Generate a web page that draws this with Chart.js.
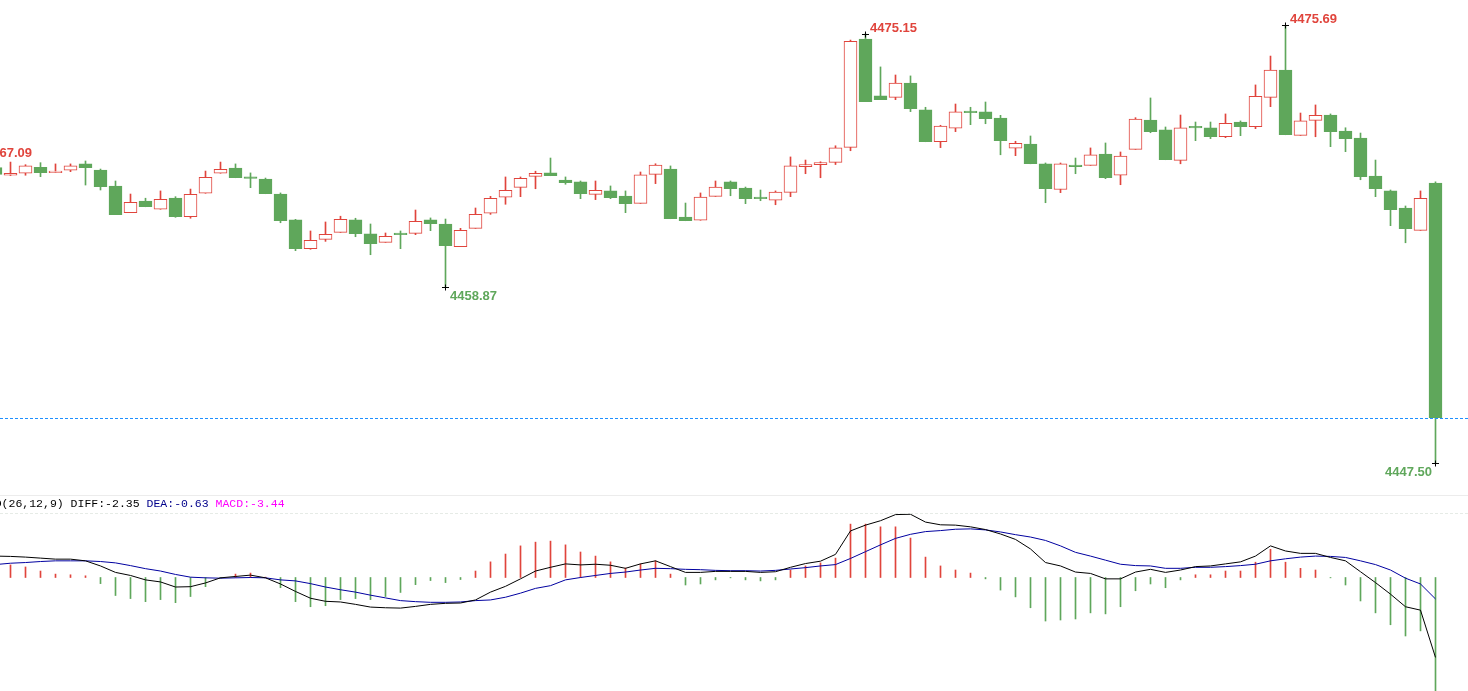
<!DOCTYPE html>
<html>
<head>
<meta charset="utf-8">
<script src="https://cdn.jsdelivr.net/npm/chart.js@4.4.1/dist/chart.umd.min.js"></script>
<style>
html, body { margin: 0; padding: 0; background: #fff; overflow: hidden; }
#wrap { position: relative; width: 1468px; height: 691px; }
#kline { position: absolute; left: 0; top: 0; }
#sep { position: absolute; left: 0; top: 495px; width: 1468px; height: 1px; background: #ececec; }
#macd { position: absolute; left: 0; top: 496px; }
</style>
</head>
<body>
<div id="wrap">
  <canvas id="kline" width="1468" height="495"></canvas>
  <div id="sep"></div>
  <canvas id="macd" width="1468" height="195"></canvas>
</div>
<script>
// candle index of the first entry (the first two sit at / beyond the left edge)
const firstIndex = -2;

const opens = [
  4466.20, 4466.53, 4466.04, 4466.17, 4466.55, 4466.21, 4466.36, 4466.77, 4466.38, 4465.35,
  4463.63, 4464.38, 4463.85, 4464.57, 4463.37, 4464.88, 4466.17, 4466.51, 4465.86, 4465.80,
  4464.83, 4463.16, 4461.31, 4461.91, 4462.36, 4463.16, 4462.26, 4461.72, 4462.32, 4462.30,
  4463.16, 4462.90, 4461.44, 4462.62, 4463.59, 4464.62, 4465.26, 4465.97, 4466.19, 4465.73,
  4465.61, 4464.81, 4465.03, 4464.70, 4464.23, 4466.10, 4466.44, 4463.35, 4463.14, 4464.68,
  4465.61, 4465.22, 4464.64, 4464.43, 4464.94, 4466.60, 4466.72, 4466.87, 4467.84, 4474.82,
  4471.15, 4471.06, 4471.98, 4470.25, 4468.20, 4469.07, 4470.18, 4470.12, 4469.73, 4467.78,
  4468.05, 4466.77, 4465.12, 4466.70, 4466.68, 4467.41, 4466.04, 4467.71, 4469.60, 4468.96,
  4467.00, 4469.17, 4469.09, 4468.52, 4469.47, 4469.17, 4471.06, 4472.82, 4468.61, 4469.58,
  4469.92, 4468.89, 4468.44, 4465.99, 4465.03, 4463.93, 4462.49, 4465.54
];
const highs = [
  4467.09, 4466.80, 4466.89, 4466.72, 4466.85, 4466.77, 4466.77, 4466.96, 4466.44, 4465.67,
  4464.83, 4464.56, 4465.03, 4464.66, 4465.15, 4466.31, 4466.89, 4466.77, 4466.19, 4465.86,
  4464.90, 4463.20, 4462.45, 4463.03, 4463.40, 4463.27, 4462.90, 4462.32, 4462.45, 4463.80,
  4463.29, 4463.22, 4462.62, 4463.93, 4464.68, 4465.93, 4465.93, 4466.30, 4467.15, 4465.93,
  4465.67, 4465.67, 4465.35, 4465.03, 4466.25, 4466.78, 4466.64, 4464.25, 4464.90, 4465.67,
  4465.67, 4465.28, 4465.09, 4465.03, 4467.22, 4467.02, 4466.91, 4467.94, 4474.75, 4475.15,
  4473.02, 4472.50, 4472.44, 4470.42, 4469.26, 4470.63, 4470.42, 4470.76, 4469.90, 4468.23,
  4468.57, 4466.83, 4466.83, 4467.15, 4467.80, 4468.12, 4467.54, 4469.75, 4471.02, 4469.15,
  4469.92, 4469.47, 4469.47, 4469.99, 4469.54, 4471.86, 4473.72, 4475.69, 4470.05, 4470.57,
  4469.99, 4469.10, 4468.76, 4467.02, 4465.09, 4464.06, 4465.03, 4465.61
];
const lows = [
  4465.90, 4465.90, 4466.02, 4466.04, 4465.95, 4466.21, 4466.27, 4465.41, 4465.09, 4463.50,
  4463.63, 4464.01, 4463.85, 4463.33, 4463.27, 4464.88, 4466.17, 4465.88, 4465.24, 4464.85,
  4462.98, 4461.18, 4461.27, 4461.78, 4462.36, 4462.08, 4460.92, 4461.72, 4461.31, 4462.21,
  4462.47, 4458.87, 4461.44, 4462.62, 4463.52, 4464.17, 4464.66, 4465.17, 4466.01, 4465.46,
  4464.53, 4464.47, 4464.53, 4463.63, 4464.23, 4465.50, 4463.24, 4463.11, 4463.14, 4464.68,
  4464.72, 4464.21, 4464.40, 4464.14, 4464.66, 4466.14, 4465.88, 4466.73, 4467.62, 4470.78,
  4470.91, 4470.91, 4470.14, 4468.20, 4467.82, 4468.85, 4469.30, 4469.36, 4467.36, 4467.30,
  4466.78, 4464.27, 4464.92, 4466.14, 4466.68, 4465.82, 4465.43, 4467.71, 4468.78, 4467.04,
  4466.78, 4468.27, 4468.40, 4468.46, 4468.59, 4469.04, 4470.46, 4468.65, 4468.61, 4468.52,
  4467.88, 4467.56, 4465.75, 4464.66, 4462.79, 4461.69, 4462.49, 4447.50
];
const closes = [
  4466.60, 4466.10, 4466.17, 4466.64, 4466.21, 4466.31, 4466.64, 4466.53, 4465.30, 4463.50,
  4464.30, 4464.01, 4464.49, 4463.37, 4464.81, 4465.91, 4466.42, 4465.88, 4465.84, 4464.85,
  4463.11, 4461.31, 4461.85, 4462.24, 4463.20, 4462.27, 4461.63, 4462.11, 4462.21, 4463.07,
  4462.92, 4461.50, 4462.49, 4463.52, 4464.56, 4465.07, 4465.84, 4466.17, 4466.01, 4465.56,
  4464.85, 4465.07, 4464.59, 4464.21, 4466.06, 4466.70, 4463.24, 4463.11, 4464.64, 4465.28,
  4465.17, 4464.53, 4464.53, 4464.96, 4466.64, 4466.72, 4466.85, 4467.80, 4474.67, 4470.78,
  4470.91, 4471.98, 4470.33, 4468.20, 4469.21, 4470.12, 4470.07, 4469.68, 4468.27, 4468.10,
  4466.78, 4465.17, 4466.77, 4466.60, 4467.35, 4465.88, 4467.28, 4469.66, 4468.85, 4467.04,
  4469.09, 4469.09, 4468.52, 4469.39, 4469.17, 4471.13, 4472.82, 4468.65, 4469.54, 4469.90,
  4468.85, 4468.40, 4465.95, 4465.17, 4463.82, 4462.60, 4464.56, 4450.42
];

// MACD(26,12,9)
const diffValues = [
  0.64, 0.63, 0.62, 0.60, 0.57, 0.54, 0.54, 0.49, 0.34, 0.15,
  0.06, -0.07, -0.13, -0.28, -0.27, -0.16, -0.01, 0.03, 0.07, -0.01,
  -0.19, -0.41, -0.61, -0.70, -0.72, -0.79, -0.87, -0.89, -0.90, -0.85,
  -0.79, -0.76, -0.75, -0.66, -0.43, -0.26, -0.04, 0.19, 0.30, 0.40,
  0.37, 0.39, 0.36, 0.27, 0.40, 0.49, 0.32, 0.15, 0.15, 0.18,
  0.18, 0.18, 0.15, 0.17, 0.30, 0.41, 0.48, 0.68, 1.37, 1.54,
  1.67, 1.85, 1.86, 1.63, 1.55, 1.54, 1.49, 1.41, 1.28, 1.12,
  0.84, 0.44, 0.34, 0.16, 0.12, -0.04, -0.04, 0.16, 0.24, 0.15,
  0.22, 0.32, 0.34, 0.40, 0.46, 0.63, 0.93, 0.78, 0.71, 0.71,
  0.59, 0.49, 0.17, -0.15, -0.49, -0.86, -0.96, -2.35
];
const deaValues = [
  0.36, 0.38, 0.42, 0.44, 0.47, 0.49, 0.49, 0.49, 0.47, 0.43,
  0.35, 0.26, 0.19, 0.09, 0.01, -0.01, -0.02, -0.01, 0.00, -0.01,
  -0.07, -0.10, -0.18, -0.28, -0.36, -0.43, -0.52, -0.60, -0.68, -0.71,
  -0.73, -0.73, -0.72, -0.68, -0.66, -0.58, -0.46, -0.32, -0.24, -0.07,
  0.00, 0.06, 0.12, 0.16, 0.22, 0.27, 0.26, 0.24, 0.23, 0.21,
  0.20, 0.20, 0.19, 0.21, 0.25, 0.29, 0.34, 0.38, 0.56, 0.76,
  0.96, 1.15, 1.27, 1.35, 1.38, 1.42, 1.43, 1.40, 1.34, 1.26,
  1.19, 1.09, 0.93, 0.74, 0.63, 0.51, 0.39, 0.35, 0.34, 0.27,
  0.27, 0.30, 0.30, 0.32, 0.35, 0.39, 0.49, 0.55, 0.60, 0.63,
  0.62, 0.59, 0.49, 0.38, 0.22, -0.02, -0.19, -0.63
];
const macdValues = [
  0.56, 0.50, 0.37, 0.31, 0.19, 0.10, 0.08, 0.05, -0.18, -0.53,
  -0.62, -0.71, -0.65, -0.74, -0.56, -0.27, -0.02, 0.10, 0.13, 0.01,
  -0.30, -0.71, -0.86, -0.83, -0.65, -0.62, -0.65, -0.56, -0.44, -0.21,
  -0.09, -0.15, -0.06, 0.19, 0.46, 0.69, 0.93, 1.04, 1.07, 0.96,
  0.75, 0.63, 0.46, 0.28, 0.40, 0.49, 0.10, -0.22, -0.19, -0.07,
  -0.01, -0.07, -0.10, -0.07, 0.22, 0.34, 0.43, 0.57, 1.57, 1.57,
  1.49, 1.49, 1.16, 0.60, 0.34, 0.22, 0.13, -0.04, -0.37, -0.57,
  -0.89, -1.28, -1.25, -1.22, -1.04, -1.07, -0.86, -0.39, -0.19, -0.30,
  -0.07, 0.08, 0.08, 0.19, 0.19, 0.45, 0.83, 0.45, 0.27, 0.22,
  -0.01, -0.22, -0.69, -1.04, -1.39, -1.72, -1.57, -3.44
];

// candles whose extreme price is labelled
const markedCandles = [-2, 29, 57, 85, 95];
const markedSide = ['high', 'low', 'high', 'high', 'low'];

const RED = '#e0443c';
const GREEN = '#5fa75b';

const idx = opens.map((_, k) => k + firstIndex);
const isUp = opens.map((o, k) => closes[k] >= o);

const xScale = { type: 'linear', min: -0.7, max: 97.1667, display: false, offset: false, bounds: 'data' };

const candleOverlay = {
  id: 'candleOverlay',
  afterDatasetsDraw(chart) {
    const { ctx, scales: { x, y }, width } = chart;
    ctx.save();
    // last price line
    const py = Math.round(y.getPixelForValue(closes[closes.length - 1])) + 0.5;
    ctx.strokeStyle = '#1e90ff';
    ctx.lineWidth = 1;
    ctx.setLineDash([3, 2]);
    ctx.beginPath();
    ctx.moveTo(0, py);
    ctx.lineTo(width, py);
    ctx.stroke();
    ctx.setLineDash([]);

    ctx.font = 'bold 13px "Liberation Sans", Arial, sans-serif';
    markedCandles.forEach((ci, n) => {
      const k = ci - firstIndex;
      const high = markedSide[n] === 'high';
      const price = high ? highs[k] : lows[k];
      const cx = x.getPixelForValue(ci);
      const cy = Math.round(y.getPixelForValue(price)) + 0.5;
      ctx.strokeStyle = '#000';
      ctx.beginPath();
      ctx.moveTo(cx - 3.5, cy); ctx.lineTo(cx + 3.5, cy);
      ctx.moveTo(cx, cy - 3); ctx.lineTo(cx, cy + 3);
      ctx.stroke();
      ctx.fillStyle = high ? RED : GREEN;
      ctx.textBaseline = 'alphabetic';
      const label = price.toFixed(2);
      if (cx > width - 70) {
        ctx.textAlign = 'right';
        ctx.fillText(label, cx - 3.5, high ? cy - 2.5 : cy + 12);
      } else {
        ctx.textAlign = 'left';
        ctx.fillText(label, cx + 4.5, high ? cy - 2.5 : cy + 12);
      }
    });
    ctx.restore();
  }
};

new Chart(document.getElementById('kline'), {
  type: 'bar',
  data: {
    datasets: [
      {
        label: 'wick',
        data: idx.map((i, k) => ({ x: i, y: [lows[k], highs[k]] })),
        backgroundColor: c => isUp[c.dataIndex] ? RED : GREEN,
        barThickness: 1,
        grouped: false,
        order: 3
      },
      {
        label: 'body',
        data: idx.map((i, k) => ({ x: i, y: [opens[k], closes[k]] })),
        backgroundColor: c => isUp[c.dataIndex] ? '#ffffff' : GREEN,
        borderColor: c => isUp[c.dataIndex] ? RED : GREEN,
        borderWidth: 1,
        borderSkipped: false,
        barThickness: 13,
        minBarLength: 1.5,
        grouped: false,
        order: 2
      }
    ]
  },
  options: {
    responsive: false,
    animation: false,
    devicePixelRatio: 1,
    layout: { padding: 0 },
    plugins: { legend: { display: false }, tooltip: { enabled: false } },
    scales: {
      x: xScale,
      y: { min: 4445.438, max: 4477.332, display: false, beginAtZero: false, bounds: 'data' }
    }
  },
  plugins: [candleOverlay]
});

const macdOverlay = {
  id: 'macdOverlay',
  afterDatasetsDraw(chart) {
    const { ctx, width } = chart;
    const last = diffValues.length - 1;
    ctx.save();
    ctx.strokeStyle = '#e6ebe6';
    ctx.lineWidth = 1;
    ctx.setLineDash([3, 2]);
    ctx.beginPath();
    ctx.moveTo(0, 17.5);
    ctx.lineTo(width, 17.5);
    ctx.stroke();
    ctx.setLineDash([]);

    ctx.font = '11.5px "Liberation Mono", "DejaVu Sans Mono", monospace';
    ctx.textBaseline = 'alphabetic';
    ctx.textAlign = 'left';
    const parts = [
      ['MACD(26,12,9) ', '#000000'],
      ['DIFF:' + diffValues[last].toFixed(2) + ' ', '#000000'],
      ['DEA:' + deaValues[last].toFixed(2) + ' ', '#00008b'],
      ['MACD:' + macdValues[last].toFixed(2), '#ff00ff']
    ];
    let tx = -26;
    parts.forEach(([t, col]) => {
      ctx.fillStyle = col;
      ctx.fillText(t, tx, 11);
      tx += ctx.measureText(t).width;
    });
    ctx.restore();
  }
};

new Chart(document.getElementById('macd'), {
  type: 'bar',
  data: {
    datasets: [
      {
        label: 'DIFF',
        type: 'line',
        data: idx.map((i, k) => ({ x: i, y: diffValues[k] })),
        borderColor: '#000000',
        borderWidth: 1,
        pointRadius: 0,
        tension: 0,
        order: 0
      },
      {
        label: 'DEA',
        type: 'line',
        data: idx.map((i, k) => ({ x: i, y: deaValues[k] })),
        borderColor: '#0000a0',
        borderWidth: 1,
        pointRadius: 0,
        tension: 0,
        order: 1
      },
      {
        label: 'MACD',
        data: idx.map((i, k) => ({ x: i, y: macdValues[k] })),
        backgroundColor: c => macdValues[c.dataIndex] >= 0 ? RED : GREEN,
        barThickness: 1,
        grouped: false,
        order: 2
      }
    ]
  },
  options: {
    responsive: false,
    animation: false,
    devicePixelRatio: 1,
    layout: { padding: 0 },
    plugins: { legend: { display: false }, tooltip: { enabled: false } },
    scales: {
      x: xScale,
      y: { min: -3.338, max: 2.397, display: false, beginAtZero: false, bounds: 'data' }
    }
  },
  plugins: [macdOverlay]
});
</script>
</body>
</html>
